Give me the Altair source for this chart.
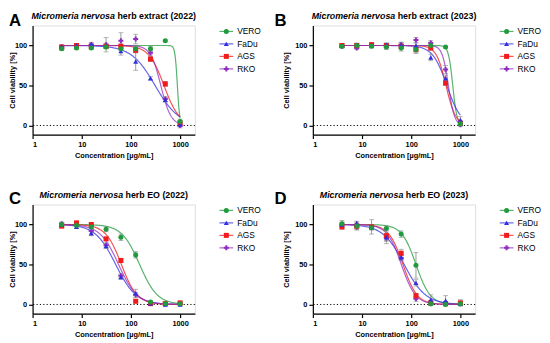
import altair as alt
import pandas as pd
import numpy as np

conc = [3.90625, 7.8125, 15.625, 31.25, 62.5, 125, 250, 500, 1000]
series = ["VERO", "FaDu", "AGS", "RKO"]
colors = ["#1f9a3c", "#2f2fe0", "#f21b1b", "#8f2dbf"]
shapes = ["circle", "triangle-up", "square", "cross"]
sizes = [26, 26, 30, 22]

# Panel A: herb extract (2022)
a_mean = {
    "VERO": [96, 97, 97, 98, 96, 96, 96, 106, 5],
    "FaDu": [99, 100, 102, 100, 93, 80, 59, 32, 1],
    "AGS": [98, 100, 99, 99, 99, 94, 83, 52, 3],
    "RKO": [98, 99, 101, 101, 106, 108, 91, 33, 0],
}
a_sd = {
    "VERO": [2, 2, 2, 2, 2, 2, 3, 1, 3],
    "FaDu": [2, 2, 2, 3, 5, 11, 2, 3, 2],
    "AGS": [2, 2, 2, 2, 3, 3, 3, 3, 3],
    "RKO": [2, 2, 2, 9, 10, 6, 3, 3, 3],
}
a_ic50 = [880, 310, 470, 405]
a_hill = [18, 1.8, 2.8, 4.2]

# Panel B: herb extract (2023)
b_mean = {
    "VERO": [99, 100, 99, 98, 97, 95, 100, 98, 2],
    "FaDu": [100, 101, 101, 101, 101, 100, 85, 59, 7],
    "AGS": [100, 100, 101, 100, 99, 95, 97, 53, 3],
    "RKO": [99, 97, 100, 100, 101, 107, 103, 70, 1],
}
b_sd = {
    "VERO": [2, 2, 2, 3, 4, 5, 4, 1, 2],
    "FaDu": [2, 2, 2, 2, 3, 3, 4, 4, 4],
    "AGS": [2, 2, 2, 2, 3, 4, 3, 3, 2],
    "RKO": [2, 2, 2, 3, 3, 3, 3, 5, 2],
}
b_ic50 = [700, 530, 510, 570]
b_hill = [10, 3.0, 4.4, 7.0]

# Panel C: herb EO (2022)
c_mean = {
    "VERO": [100, 99, 97, 94, 84, 62, 3, 1, 1],
    "FaDu": [100, 97, 89, 73, 34, 14, 1, 0, 0],
    "AGS": [98, 102, 100, 82, 55, 4, 1, 1, 2],
    "RKO": [101, 99, 92, 74, 36, 12, 2, 1, 1],
}
c_sd = {
    "VERO": [2, 2, 2, 3, 4, 4, 2, 1, 2],
    "FaDu": [2, 2, 3, 3, 2, 5, 1, 1, 1],
    "AGS": [2, 2, 2, 2, 2, 2, 1, 1, 1],
    "RKO": [2, 2, 3, 3, 2, 3, 1, 1, 1],
}
c_ic50 = [150, 49, 64, 56]
c_hill = [2.4, 2.1, 2.7, 2.3]

# Panel D: herb EO (2023)
d_mean = {
    "VERO": [101, 98, 96, 95, 88, 49, 1, 0, 1],
    "FaDu": [100, 102, 97, 84, 59, 27, 6, 5, 1],
    "AGS": [97, 98, 97, 86, 64, 11, 2, 1, 2],
    "RKO": [100, 97, 97, 83, 58, 7, 1, 1, 1],
}
d_sd = {
    "VERO": [4, 5, 3, 3, 4, 16, 2, 1, 2],
    "FaDu": [3, 2, 9, 4, 3, 4, 6, 6, 2],
    "AGS": [3, 3, 3, 10, 5, 3, 2, 2, 4],
    "RKO": [2, 3, 3, 4, 3, 3, 2, 2, 2],
}
d_ic50 = [125, 72, 68, 63]
d_hill = [3.0, 2.0, 3.0, 3.0]

FONT = "Liberation Sans"
W, H = 165, 111
GRID = np.linspace(np.log10(conc[0]), np.log10(conc[-1]), 240)

color_scale = alt.Scale(domain=series, range=colors)
shape_scale = alt.Scale(domain=series, range=shapes)
size_scale = alt.Scale(domain=series, range=sizes)


def panel(letter, letter_x, italic, rest, split, ytx, means, sds, ic50, hill):
    rows = []
    for s in reversed(series):
        for c, m, e in zip(conc, means[s], sds[s]):
            rows.append({"series": s, "conc": c, "mean": m, "lo": m - e, "hi": m + e})
    df = pd.DataFrame(rows)

    fit = pd.DataFrame({"series": series, "ic50": ic50, "hill": hill})
    curve = fit.merge(pd.DataFrame({"lx": GRID}), how="cross")

    xs = alt.Scale(type="log", domain=[1, 1995], nice=False)
    ys = alt.Scale(domain=[-11.5, 125], nice=False, zero=False)

    xaxis = alt.Axis(values=[1, 10, 100, 1000], format="d", title="Concentration [µg/mL]",
                     labelFont=FONT, labelFontSize=7.5, labelFontWeight="bold", labelColor="black",
                     titleFont=FONT, titleFontSize=7.5, titleFontWeight="bold", titleColor="black",
                     tickSize=4, tickColor="black", tickWidth=1.2, domainColor="black",
                     domainWidth=1.2, labelPadding=2, grid=False, titleY=21,
                     titleBaseline="middle")
    yaxis = alt.Axis(values=[0, 50, 100], title="Cell viability [%]",
                     labelFont=FONT, labelFontSize=7.5, labelFontWeight="bold", labelColor="black",
                     titleFont=FONT, titleFontSize=7.5, titleFontWeight="bold", titleColor="black",
                     tickSize=4, tickColor="black", tickWidth=1.2, domainColor="black",
                     domainWidth=1.2, labelPadding=2, grid=False, titleX=ytx, titleY=H / 2,
                     titleBaseline="middle", titleAlign="center")

    zero = alt.Chart(pd.DataFrame({"z": [0]})).mark_rule(
        color="black", strokeDash=[1.2, 2.2], strokeWidth=1
    ).encode(y=alt.Y("z:Q", scale=ys, axis=yaxis))

    lines = alt.Chart(curve).transform_calculate(
        x="pow(10, datum.lx)",
        y="100 / (1 + pow(pow(10, datum.lx) / datum.ic50, datum.hill))",
    ).mark_line(strokeWidth=1.2, opacity=0.75).encode(
        x=alt.X("x:Q", scale=xs, axis=xaxis),
        y=alt.Y("y:Q", scale=ys),
        color=alt.Color("series:N", scale=color_scale, legend=None),
        detail="series:N",
    )

    base = alt.Chart(df)
    err = base.mark_rule(color="#8f8f8f", strokeWidth=0.9).encode(
        x=alt.X("conc:Q", scale=xs), y=alt.Y("lo:Q", scale=ys), y2="hi:Q")
    cap_lo = base.mark_tick(color="#8f8f8f", orient="horizontal", size=5, thickness=0.9).encode(
        x=alt.X("conc:Q", scale=xs), y=alt.Y("lo:Q", scale=ys))
    cap_hi = base.mark_tick(color="#8f8f8f", orient="horizontal", size=5, thickness=0.9).encode(
        x=alt.X("conc:Q", scale=xs), y=alt.Y("hi:Q", scale=ys))
    pts = base.mark_point(filled=True, opacity=1).encode(
        x=alt.X("conc:Q", scale=xs),
        y=alt.Y("mean:Q", scale=ys),
        color=alt.Color("series:N", scale=color_scale, legend=None),
        shape=alt.Shape("series:N", scale=shape_scale, legend=None),
        size=alt.Size("series:N", scale=size_scale, legend=None),
    )

    leg = pd.DataFrame({"series": series, "idx": list(range(len(series)))})
    lbase = alt.Chart(leg).transform_calculate(ly="6 + datum.idx * 12.7")
    leg_rule = lbase.mark_rule(strokeWidth=1.2, opacity=0.75).encode(
        x=alt.value(190), x2=alt.value(204), y=alt.Y("ly:Q", scale=None),
        color=alt.Color("series:N", scale=color_scale, legend=None))
    leg_pt = lbase.mark_point(filled=True, opacity=1).encode(
        x=alt.value(197), y=alt.Y("ly:Q", scale=None),
        color=alt.Color("series:N", scale=color_scale, legend=None),
        shape=alt.Shape("series:N", scale=shape_scale, legend=None),
        size=alt.Size("series:N", scale=size_scale, legend=None))
    leg_txt = lbase.mark_text(align="left", baseline="middle", font=FONT, fontSize=8.5,
                              color="black").encode(
        x=alt.value(208), y=alt.Y("ly:Q", scale=None), text="series:N")

    tdf = pd.DataFrame({"a": [italic], "b": [rest], "l": [letter]})
    tb = alt.Chart(tdf)
    t1 = tb.mark_text(align="right", baseline="alphabetic", font=FONT, fontSize=9,
                      fontWeight="bold", fontStyle="italic", color="black").encode(
        x=alt.value(split), y=alt.value(-7), text="a:N")
    t2 = tb.mark_text(align="left", baseline="alphabetic", font=FONT, fontSize=9,
                      fontWeight="bold", color="black").encode(
        x=alt.value(split + 2.5), y=alt.value(-7), text="b:N")
    t3 = tb.mark_text(align="left", baseline="alphabetic", font=FONT, fontSize=17,
                      fontWeight="bold", color="black").encode(
        x=alt.value(letter_x), y=alt.value(0), text="l:N")

    return alt.layer(zero, lines, err, cap_lo, cap_hi, pts, leg_rule, leg_pt, leg_txt,
                     t1, t2, t3).properties(width=W, height=H)


def split_pos(italic_em, rest_em, fs=9):
    total = (italic_em + rest_em) * fs
    return W / 2 - total / 2 + italic_em * fs


ITAL = 9.448
p_a = panel("A", -24, "Micromeria nervosa", "herb extract (2022)", split_pos(ITAL, 9.17), -20,
            a_mean, a_sd, a_ic50, a_hill)
p_b = panel("B", -39, "Micromeria nervosa", "herb extract (2023)", split_pos(ITAL, 9.17), -27,
            b_mean, b_sd, b_ic50, b_hill)
p_c = panel("C", -24, "Micromeria nervosa", "herb EO (2022)", split_pos(ITAL, 7.336), -20,
            c_mean, c_sd, c_ic50, c_hill)
p_d = panel("D", -39, "Micromeria nervosa", "herb EO (2023)", split_pos(ITAL, 7.336), -27,
            d_mean, d_sd, d_ic50, d_hill)

chart = alt.concat(p_a, p_b, p_c, p_d, columns=2, spacing={"row": 71, "column": 120},
                   bounds="flush").properties(
    padding={"left": 0, "top": 0, "right": 0, "bottom": 0}
).configure_view(stroke=None).configure(font=FONT)

chart.save("out.html", embed_options={"renderer": "svg", "actions": False})
